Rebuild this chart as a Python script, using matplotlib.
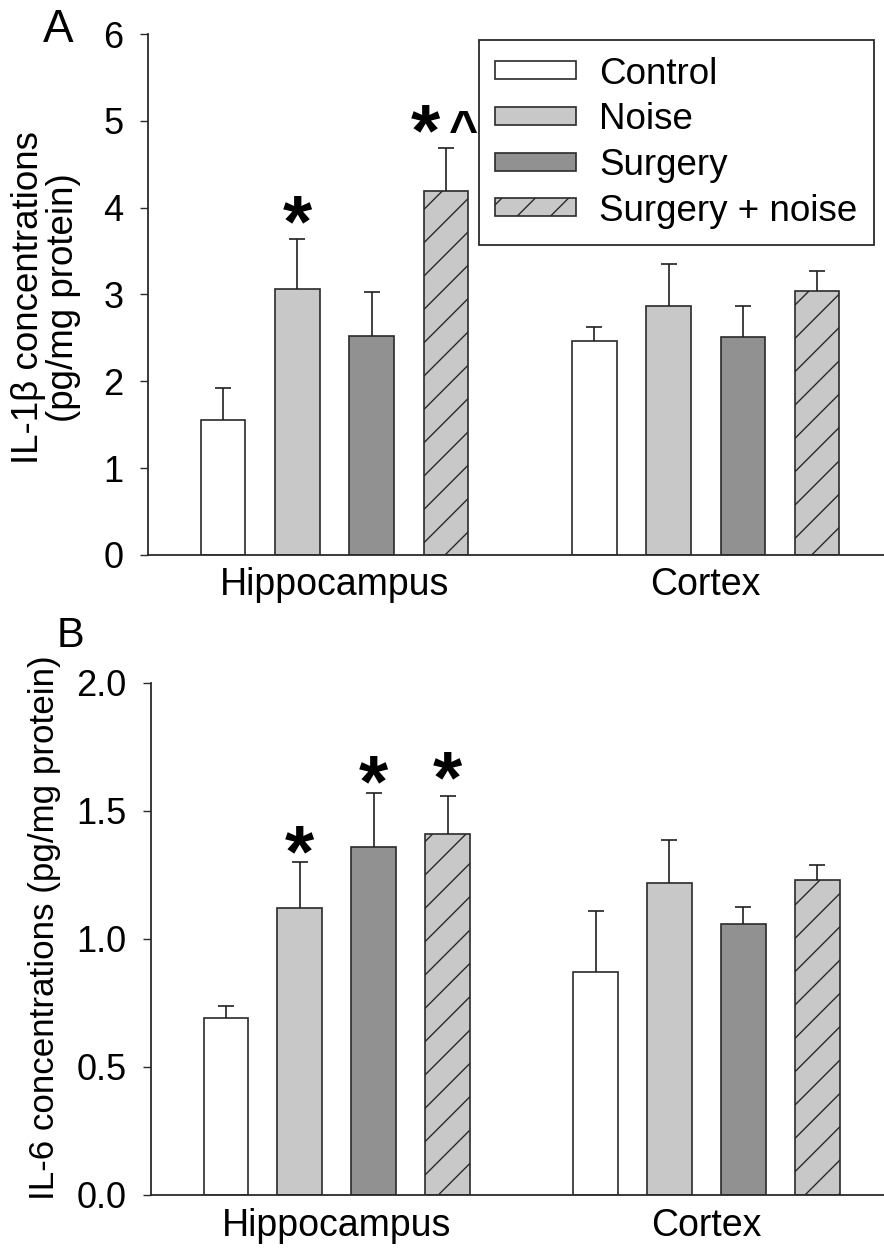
import matplotlib
matplotlib.use("Agg")
import matplotlib.pyplot as plt

plt.rcParams['font.family'] = ['Liberation Sans', 'DejaVu Sans']
plt.rcParams['hatch.linewidth'] = 1.0
plt.rcParams['hatch.color'] = 'black'

# data
regions = ["Hippocampus", "Cortex"]
groups = ["Control", "Noise", "Surgery", "Surgery + noise"]

il1b_hippo = [1.55, 3.06, 2.52, 4.19]
il1b_hippo_err = [0.37, 0.58, 0.51, 0.50]
il1b_cortex = [2.47, 2.87, 2.51, 3.04]
il1b_cortex_err = [0.15, 0.48, 0.36, 0.23]
il1b_marks = ["", "*", "", "*^"]
il1b_mark_y = [0, 3.99, 0, 5.03]

il6_hippo = [0.69, 1.12, 1.36, 1.41]
il6_hippo_err = [0.05, 0.18, 0.21, 0.15]
il6_cortex = [0.87, 1.22, 1.06, 1.23]
il6_cortex_err = [0.24, 0.165, 0.065, 0.06]
il6_marks = ["", "*", "*", "*"]
il6_mark_y = [0, 1.39, 1.665, 1.68]

colors = ["white", "#c8c8c8", "#919191", "#c8c8c8"]
hatches = [None, None, None, "/"]
edge = "#2a2a2a"
FS = 26

fig = plt.figure(figsize=(8.84, 12.49), dpi=100)
W, H = 884, 1249


def px_axes(left, top, right, bottom):
    return fig.add_axes([left / W, 1 - bottom / H, (right - left) / W, (bottom - top) / H])


def draw_panel(ax, hippo, hippo_err, cortex, cortex_err, marks, mark_y, ymax, yticks, fmt):
    for i, g in enumerate(groups):
        bc = ax.bar([i, 5 + i], [hippo[i], cortex[i]], width=0.6,
                    color=colors[i], edgecolor=edge, linewidth=1.2, hatch=hatches[i],
                    yerr=[[0, 0], [hippo_err[i], cortex_err[i]]], capsize=6,
                    error_kw=dict(elinewidth=1.2, capthick=1.2, ecolor="#202020"),
                    label=g)
        # only the upper half of the error bar is shown
        bc.errorbar.lines[1][0].set_visible(False)
    star_fs = 54
    caret_fs = 36
    for i, m in enumerate(marks):
        if not m:
            continue
        dx = -15 if "^" in m else 0
        ax.annotate("*", (i, mark_y[i]), xytext=(dx, -0.5 * star_fs),
                    textcoords="offset points", ha="center", va="baseline",
                    fontsize=star_fs, fontweight="bold")
        if "^" in m:
            ax.annotate("^", (i, mark_y[i]), xytext=(12.5, -0.55 * caret_fs),
                        textcoords="offset points", ha="center", va="baseline",
                        fontsize=caret_fs, fontweight="bold")
    ax.set_xlim(-1.01, 8.9)
    ax.set_ylim(0, ymax)
    ax.set_yticks(yticks)
    ax.set_yticklabels([fmt % t for t in yticks])
    ax.set_xticks([1.5, 6.5])
    ax.set_xticklabels(regions)
    ax.tick_params(axis="x", length=0, pad=9, labelsize=27)
    ax.tick_params(axis="y", length=5.5, width=1.0, pad=12, labelsize=FS, color=edge)
    for s in ["top", "right"]:
        ax.spines[s].set_visible(False)
    for s in ["left", "bottom"]:
        ax.spines[s].set_color(edge)
        ax.spines[s].set_linewidth(1.3)


# panel A
axA = px_axes(148, 34, 884, 555)
draw_panel(axA, il1b_hippo, il1b_hippo_err, il1b_cortex, il1b_cortex_err,
           il1b_marks, il1b_mark_y, 6, [0, 1, 2, 3, 4, 5, 6], "%d")
leg = axA.legend(loc="upper right", bbox_to_anchor=(874 / W, 1 - 40 / H),
                 bbox_transform=fig.transFigure, borderaxespad=0, fontsize=26.5,
                 handlelength=2.2, handleheight=0.38, handletextpad=0.62,
                 labelspacing=0.29, borderpad=0.45, fancybox=False, framealpha=1)
leg.get_frame().set_edgecolor(edge)
leg.get_frame().set_linewidth(1.3)
fig.text(46 / W, 1 - 298 / H, "IL-1\u03b2 concentrations\n(pg/mg protein)",
         rotation=90, ha="center", va="center", fontsize=26.5, linespacing=1.0)
fig.text(58 / W, 1 - 30 / H, "A", ha="center", va="center", fontsize=33)

# panel B
axB = px_axes(151, 683, 884, 1195)
draw_panel(axB, il6_hippo, il6_hippo_err, il6_cortex, il6_cortex_err,
           il6_marks, il6_mark_y, 2.0, [0.0, 0.5, 1.0, 1.5, 2.0], "%.1f")
fig.text(45 / W, 1 - 928 / H, "IL-6 concentrations (pg/mg protein)",
         rotation=90, ha="center", va="center", fontsize=25.2)
fig.text(70 / W, 1 - 636 / H, "B", ha="center", va="center", fontsize=30)

fig.savefig("out.png", dpi=100)
